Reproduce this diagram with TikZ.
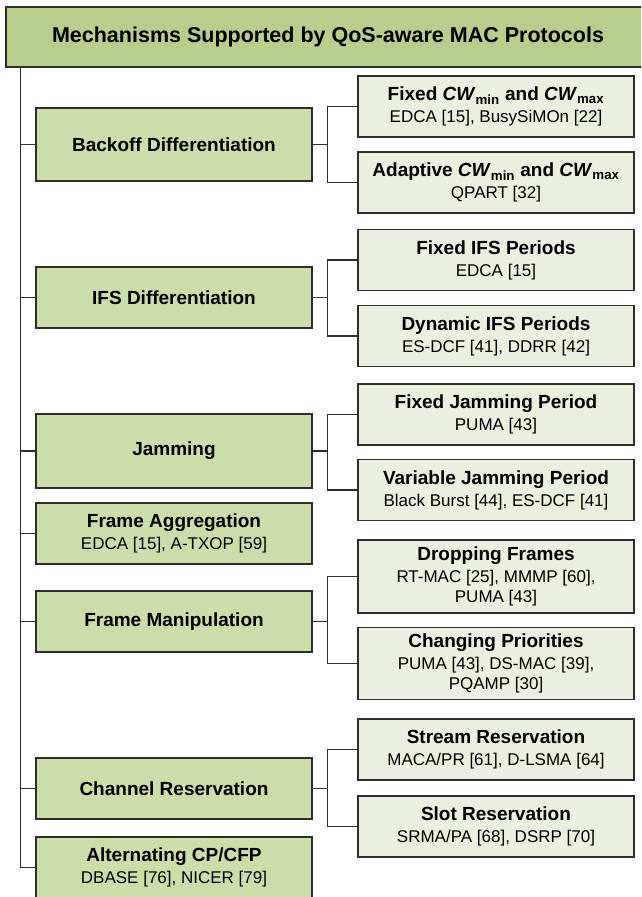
\documentclass[tikz,border=0pt]{standalone}
\usepackage{fontspec}
\setmainfont{Liberation Sans}
\definecolor{titlefill}{RGB}{185,205,140}
\definecolor{lonefill}{RGB}{205,221,170}
\definecolor{ltwofill}{RGB}{235,239,222}
\definecolor{linec}{RGB}{45,45,45}
\newcommand{\hd}[1]{{\fontsize{19}{22}\selectfont\bfseries #1}}
\newcommand{\subt}[1]{{\fontsize{17}{20}\selectfont #1}}
\newcommand{\cwm}[1]{\textit{CW}\textsubscript{#1}}
\tikzset{
  box/.style={draw=linec, line width=1.3pt, inner sep=0pt, align=center, minimum width=276pt,
    font=\fontsize{17}{20}\selectfont},
  lone/.style={box, fill=lonefill},
  ltwo/.style={box, fill=ltwofill},
  conn/.style={draw=linec, line width=1.1pt},
  thconn/.style={draw=linec, line width=1.7pt},
}
\begin{document}
\begin{tikzpicture}[x=1pt,y=-1pt]
\useasboundingbox (0,0) rectangle (641,897);
\clip (0,0) rectangle (641,897);
% title
\node[box, fill=titlefill, minimum width=644pt, minimum height=60pt] (title) at (328,37)
  {{\fontsize{21.5}{24}\selectfont\bfseries Mechanisms Supported by QoS-aware MAC Protocols}};
% level 1
\node[lone, minimum height=73pt] (bo) at (174,144.5) {\hd{Backoff Differentiation}};
\node[lone, minimum height=61pt] (ifs) at (174,297.5) {\hd{IFS Differentiation}};
\node[lone, minimum height=74pt] (jam) at (174,451) {\hd{Jamming}};
\node[lone, minimum height=61pt] (fa) at (174,533.5) {\hd{Frame Aggregation}\\[2pt]\subt{EDCA [15], A-TXOP [59]}};
\node[lone, minimum height=61pt] (fm) at (174,621.5) {\hd{Frame Manipulation}};
\node[lone, minimum height=61pt] (cr) at (174,788.5) {\hd{Channel Reservation}};
\node[lone, minimum height=61pt] (alt) at (174,867.5) {\hd{Alternating CP/CFP}\\[2pt]\subt{DBASE [76], NICER [79]}};
% level 2
\node[ltwo, minimum height=61pt] (fcw) at (496,106.5) {\hd{Fixed \cwm{min} and \cwm{max}}\\[2pt]\subt{EDCA [15], BusySiMOn [22]}};
\node[ltwo, minimum height=61pt] (acw) at (496,182.5) {\hd{Adaptive \cwm{min} and \cwm{max}}\\[2pt]\subt{QPART [32]}};
\node[ltwo, minimum height=61pt] (fifs) at (496,260) {\hd{Fixed IFS Periods}\\[2pt]\subt{EDCA [15]}};
\node[ltwo, minimum height=61pt] (difs) at (496,336) {\hd{Dynamic IFS Periods}\\[2pt]\subt{ES-DCF [41], DDRR [42]}};
\node[ltwo, minimum height=61pt] (fjp) at (496,414.5) {\hd{Fixed Jamming Period}\\[2pt]\subt{PUMA [43]}};
\node[ltwo, minimum height=61pt] (vjp) at (496,490) {\hd{Variable Jamming Period}\\[2pt]\subt{Black Burst [44], ES-DCF [41]}};
\node[ltwo, minimum height=73pt] (df) at (496,576.5) {\hd{Dropping Frames}\\[2pt]\subt{RT-MAC [25], MMMP [60],}\\\subt{PUMA [43]}};
\node[ltwo, minimum height=72pt] (cp) at (496,663.5) {\hd{Changing Priorities}\\[2pt]\subt{PUMA [43], DS-MAC [39],}\\\subt{PQAMP [30]}};
\node[ltwo, minimum height=61pt] (sr) at (496,749.5) {\hd{Stream Reservation}\\[2pt]\subt{MACA/PR [61], D-LSMA [64]}};
\node[ltwo, minimum height=61pt] (slr) at (496,826.5) {\hd{Slot Reservation}\\[2pt]\subt{SRMA/PA [68], DSRP [70]}};
% trunk
\coordinate (tr) at ([xshift=15pt]title.south west);
\foreach \n in {bo,ifs,jam,fa,fm,cr,alt} { \draw[conn] (tr) |- (\n.west); }
% branches
\foreach \p/\a/\b in {bo/fcw/acw, ifs/fifs/difs, jam/fjp/vjp, fm/df/cp, cr/sr/slr} {
  \draw[thconn] (\p.east) -- ++(15,0) coordinate (j\p);
  \draw[conn] (j\p) |- (\a.west);
  \draw[conn] (j\p) |- (\b.west);
}
\end{tikzpicture}
\end{document}
